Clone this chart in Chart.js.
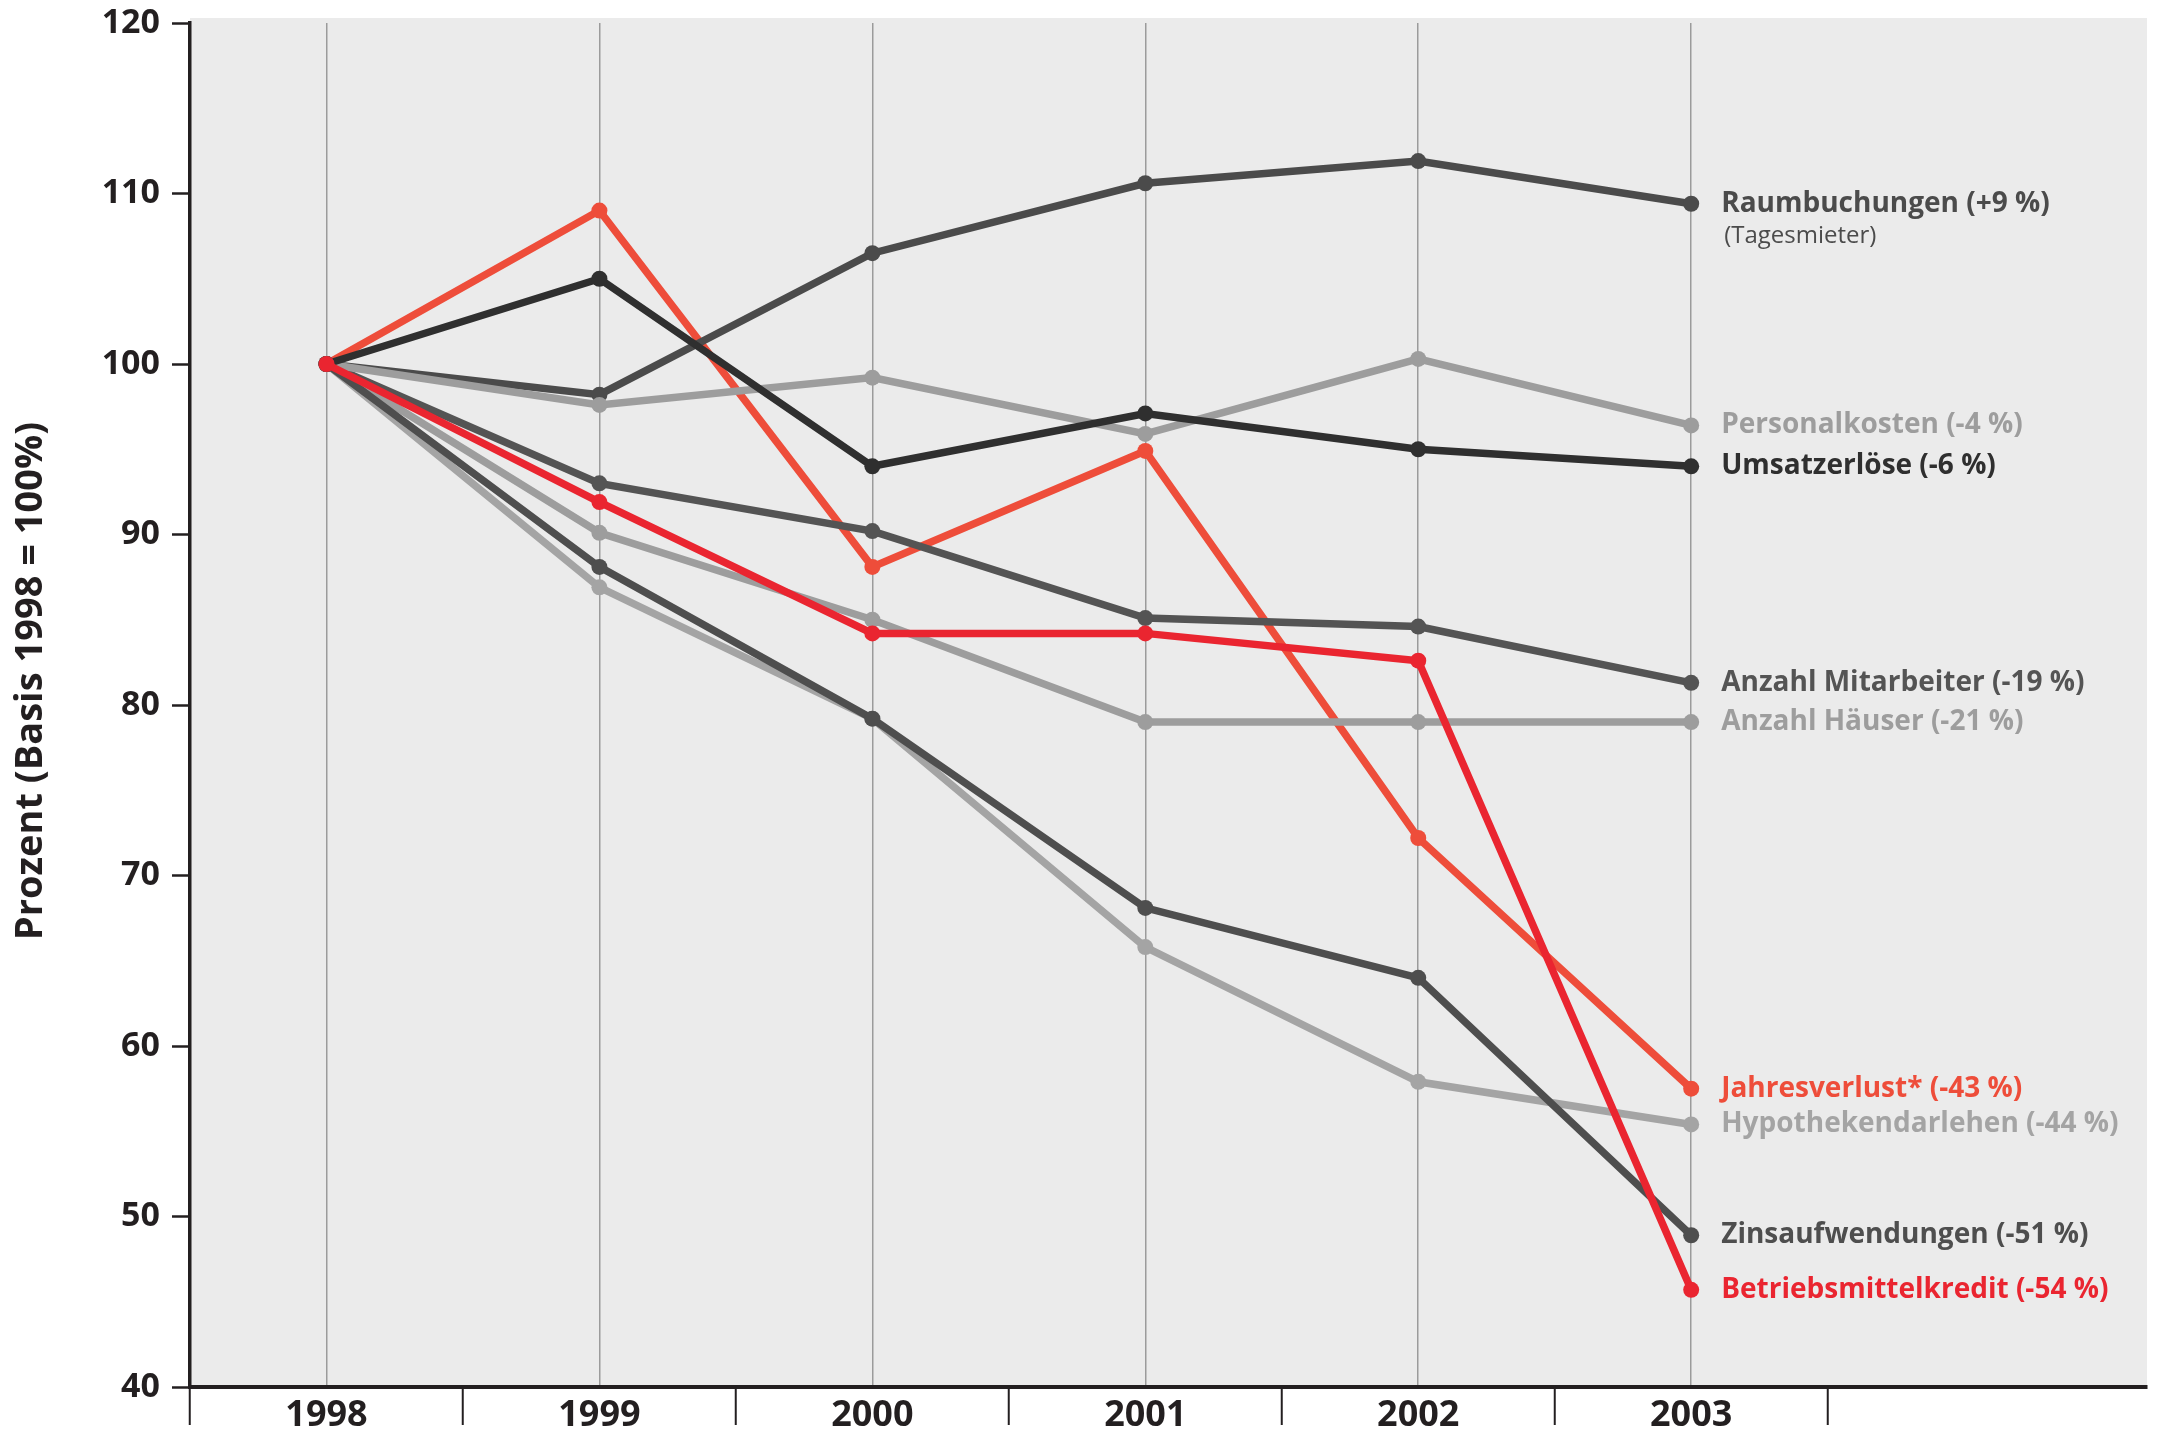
<!DOCTYPE html>
<html>
<head>
<meta charset="utf-8">
<script src="https://cdn.jsdelivr.net/npm/chart.js@4/dist/chart.umd.min.js"></script>
<style>
    body { margin: 0; background: #ffffff; }
    canvas { display: block; }
</style>
</head>
<body>
<canvas id="myChart" width="2157" height="1430"></canvas>
<script>
let years = ['1998', '1999', '2000', '2001', '2002', '2003']
let yTicks = [40, 50, 60, 70, 80, 90, 100, 110, 120]
let yTitle = 'Prozent (Basis 1998 = 100%)'

let raumbuchungen = [100, 98.2, 106.5, 110.6, 111.9, 109.4]
let personalkosten = [100, 97.6, 99.2, 95.9, 100.3, 96.4]
let umsatzerloese = [100, 105.0, 94.0, 97.1, 95.0, 94.0]
let mitarbeiter = [100, 93.0, 90.2, 85.1, 84.6, 81.3]
let haeuser = [100, 90.1, 85.0, 79.0, 79.0, 79.0]
let jahresverlust = [100, 109.0, 88.1, 94.9, 72.2, 57.5]
let hypothekendarlehen = [100, 86.9, 79.2, 65.8, 57.9, 55.4]
let zinsaufwendungen = [100, 88.1, 79.2, 68.1, 64.0, 48.9]
let betriebsmittelkredit = [100, 91.9, 84.2, 84.2, 82.6, 45.7]

let seriesNames = [
    'Raumbuchungen (+9 %)',
    'Personalkosten (-4 %)',
    'Umsatzerlöse (-6 %)',
    'Anzahl Mitarbeiter (-19 %)',
    'Anzahl Häuser (-21 %)',
    'Jahresverlust* (-43 %)',
    'Hypothekendarlehen (-44 %)',
    'Zinsaufwendungen (-51 %)',
    'Betriebsmittelkredit (-54 %)'
]
let seriesValues = [raumbuchungen, personalkosten, umsatzerloese, mitarbeiter, haeuser,
    jahresverlust, hypothekendarlehen, zinsaufwendungen, betriebsmittelkredit]

// styles kept apart from the data
let seriesColors = ['#4b4b4b', '#9d9d9d', '#2f2f2f', '#545454', '#9d9d9d',
    '#ee4d3a', '#a4a4a4', '#4e4e4e', '#ea2530']
let drawOrder = [5, 3, 2, 6, 4, 8, 7, 1, 0]   // lower = drawn on top

let fontName = '"Open Sans", sans-serif'
let textColor = '#231f20'

let bgPlugin = {
    id: 'plotBackground',
    beforeDraw(chart) {
        let a = chart.chartArea
        let ctx = chart.ctx
        ctx.save()
        ctx.fillStyle = '#ebebeb'
        ctx.fillRect(a.left, a.top - 5, a.right - a.left, a.bottom - a.top + 5)
        ctx.restore()
    }
}

// y axis title, drawn by hand so it can sit a bit above the middle like the original
let titlePlugin = {
    id: 'yTitle',
    afterDraw(chart) {
        let a = chart.chartArea
        let ctx = chart.ctx
        ctx.save()
        ctx.translate(31, (a.top + a.bottom) / 2 - 24)
        ctx.rotate(-Math.PI / 2)
        ctx.textAlign = 'center'
        ctx.textBaseline = 'middle'
        ctx.fillStyle = textColor
        ctx.font = 'bold 38px ' + fontName
        ctx.fillText(yTitle, 0, 0)
        ctx.restore()
    }
}

let labelPlugin = {
    id: 'endLabels',
    afterDatasetsDraw(chart) {
        let ctx = chart.ctx
        ctx.save()
        ctx.textBaseline = 'middle'
        ctx.textAlign = 'left'
        chart.data.datasets.forEach(function (ds, i) {
            let meta = chart.getDatasetMeta(i)
            let pt = meta.data[meta.data.length - 1]
            ctx.fillStyle = ds.borderColor
            ctx.font = 'bold 28px ' + fontName
            ctx.fillText(ds.label, pt.x + 30, pt.y)
            if (i === 0) {
                ctx.font = '24px ' + fontName
                ctx.fillText('(Tagesmieter)', pt.x + 33, pt.y + 32)
            }
        })
        ctx.restore()
    }
}

let datasets = []
for (let i = 0; i < seriesNames.length; i++) {
    datasets.push({
        label: seriesNames[i],
        data: seriesValues[i].map(function (v, k) { return {x: k, y: v} }),
        borderColor: seriesColors[i],
        backgroundColor: seriesColors[i],
        pointBackgroundColor: seriesColors[i],
        borderWidth: 7.5,
        pointRadius: 8,
        pointBorderWidth: 0,
        tension: 0,
        clip: false,
        order: drawOrder[i]
    })
}

let ctx = document.getElementById('myChart').getContext('2d')
let chart = new Chart(ctx, {
    type: 'line',
    data: { datasets: datasets },
    plugins: [bgPlugin, labelPlugin, titlePlugin],
    options: {
        responsive: false,
        animation: false,
        devicePixelRatio: 1,
        layout: { autoPadding: false, padding: { top: 23, right: 10, left: 0, bottom: 0 } },
        plugins: {
            legend: { display: false },
            tooltip: { enabled: false }
        },
        scales: {
            x: {
                type: 'linear',
                min: -0.5,
                max: 6.67,
                afterBuildTicks: function (scale) {
                    let t = []
                    for (let i = 0; i <= years.length; i++) {
                        t.push({value: i - 0.5})
                        if (i < years.length) t.push({value: i})
                    }
                    scale.ticks = t
                },
                afterFit: function (scale) { scale.height = 43 },
                ticks: {
                    autoSkip: false,
                    maxRotation: 0,
                    padding: -31,
                    color: textColor,
                    font: { family: fontName, weight: 'bold', size: 36 },
                    callback: function (value) {
                        return Number.isInteger(value) ? years[value] : ''
                    }
                },
                grid: {
                    color: function (c) {
                        return Number.isInteger(c.tick.value) ? '#9b9b9b' : 'rgba(0,0,0,0)'
                    },
                    tickColor: function (c) {
                        return Number.isInteger(c.tick.value) ? 'rgba(0,0,0,0)' : textColor
                    },
                    lineWidth: 1.5,
                    tickWidth: 2,
                    tickLength: 38
                },
                border: { color: textColor, width: 4 }
            },
            y: {
                min: 40,
                max: 120,
                afterBuildTicks: function (scale) {
                    scale.ticks = yTicks.map(function (v) { return {value: v} })
                },
                afterFit: function (scale) { scale.width = 190 },
                ticks: {
                    padding: 12,
                    color: textColor,
                    // small lineHeight keeps the top label from pushing the plot down
                    font: { family: fontName, weight: 'bold', size: 34, lineHeight: 0.6 }
                },
                grid: {
                    drawOnChartArea: false,
                    tickColor: textColor,
                    tickWidth: 2.5,
                    tickLength: 18
                },
                border: { color: textColor, width: 3.5 }
            }
        }
    }
})
</script>
</body>
</html>
